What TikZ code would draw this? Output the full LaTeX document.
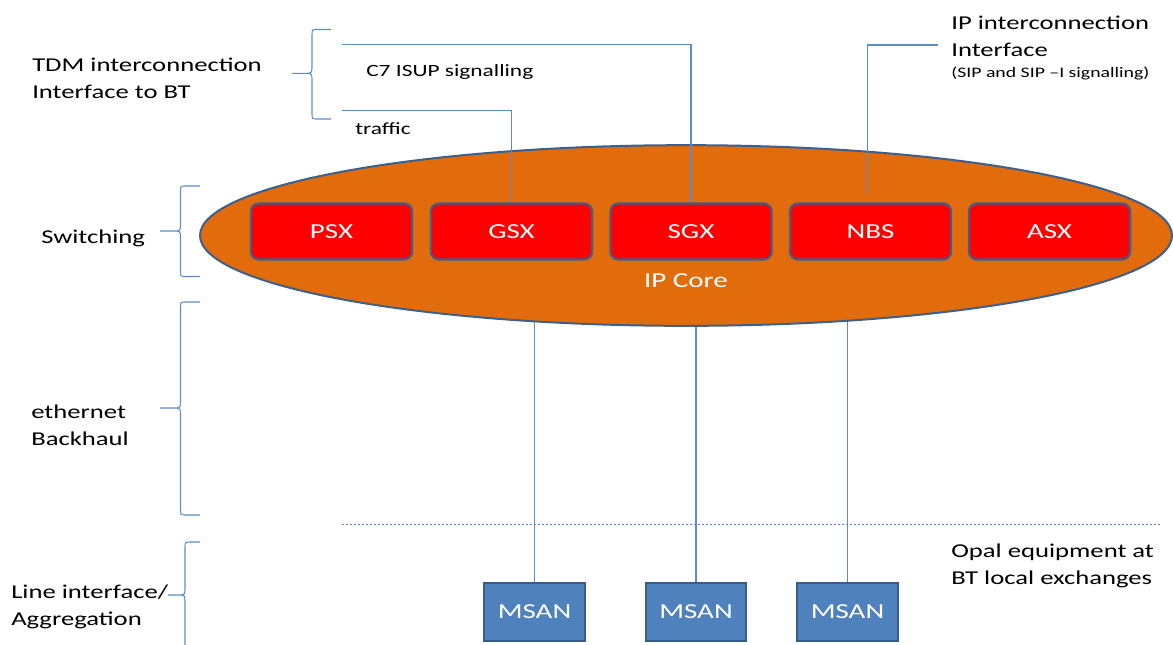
\documentclass[tikz,border=0pt]{standalone}
\usepackage{fontspec}
\setmainfont[FakeStretch=1.36]{Carlito}
\usetikzlibrary{shapes.geometric,calc}
\pgfdeclarelayer{bg}
\pgfsetlayers{bg,main}
\definecolor{orng}{HTML}{E26C0B}
\definecolor{bord}{HTML}{3D5F8C}
\definecolor{msanf}{HTML}{4F81BD}
\definecolor{msanb}{HTML}{385D8A}
\definecolor{lblue}{HTML}{5B8CC8}
\newcommand{\mybrace}[6]{% spine x, top y, tip y, bottom y, tip x, arm x
  \draw[brc] (#6,#2) -- (#1+5,#2) .. controls (#1,#2) .. (#1,#2+6) -- (#1,#3-8)
    .. controls (#1,#3) .. (#1-7,#3) -- (#5,#3)
    (#1-7,#3) .. controls (#1,#3) .. (#1,#3+8) -- (#1,#4-6)
    .. controls (#1,#4) .. (#1+5,#4) -- (#6,#4);}
\begin{document}
\begin{tikzpicture}[x=0.75pt,y=-0.75pt,
  redbox/.style={draw=bord, line width=1.6pt, fill=red, rounded corners=6pt,
    minimum width=121pt, minimum height=42pt, inner sep=0pt, text=white,
    font=\fontsize{16}{19}\selectfont},
  msan/.style={draw=msanb, line width=1.7pt, fill=msanf, minimum width=75.5pt,
    minimum height=43.5pt, inner sep=0pt, text=white, font=\fontsize{16}{19}\selectfont},
  conn/.style={draw=lblue, line width=0.8pt},
  brc/.style={draw=lblue, line width=0.8pt},
  txt/.style={anchor=west, inner sep=0pt, align=left, font=\fontsize{14.7}{20.25}\selectfont},
  smalltxt/.style={anchor=west, inner sep=0pt, font=\fontsize{12.9}{15}\selectfont},
  tinytxt/.style={anchor=west, inner sep=0pt, font=\fontsize{10.9}{13}\selectfont}]
\useasboundingbox (0,0) rectangle (1173,644);

% IP core ellipse
\node[ellipse, draw=bord, line width=1.5pt, fill=orng, minimum width=729pt,
  minimum height=135.5pt, inner sep=0pt] (core) at (686,235.5) {};
\node[text=white, inner sep=0pt, font=\fontsize{16}{19}\selectfont] (corelbl) at (686,281) {IP Core};

% switches
\node[redbox] (PSX) at (331.5,231.5) {PSX};
\node[redbox] (GSX) at (511.5,231.5) {GSX};
\node[redbox] (SGX) at (691,231.5) {SGX};
\node[redbox] (NBS) at (870.5,231.5) {NBS};
\node[redbox] (ASX) at (1049.5,231.5) {ASX};

% MSANs
\node[msan] (M1) at (534.5,612) {MSAN};
\node[msan] (M2) at (696,612) {MSAN};
\node[msan] (M3) at (847.5,612) {MSAN};

\begin{pgfonlayer}{bg}
\draw[conn] (M1.north) -- (M1.north |- core.center);
\draw[conn] (M2.north) -- (M2.north |- core.center);
\draw[conn] (M3.north) -- (M3.north |- core.center);
\end{pgfonlayer}

% interconnection lines
\coordinate (c7s) at (342,44.5);
\coordinate (trs) at (342,110.7);
\coordinate (ips) at (938,45);
\coordinate (nbsend) at (867.5,193);
\draw[conn] (c7s) -| (SGX.north);
\draw[conn] (trs) -| (GSX.north);
\draw[conn] (ips) -| (nbsend);

% dashed boundary
\coordinate (dl) at (342,524);
\coordinate (dr) at (1160,524);
\draw[draw=lblue, line width=0.7pt, dash pattern=on 1.8pt off 1.2pt] (dl) -- (dr);

% braces
\mybrace{312}{29.5}{73.3}{119}{292}{331}
\mybrace{180.5}{186}{231}{276.5}{160}{200}
\mybrace{180.5}{302}{408}{515}{160}{200}
\mybrace{185}{542}{595}{700}{168}{200}

% texts
\node[txt] (tdm) at (32,78) {TDM interconnection\\Interface to BT};
\node[smalltxt] (c7) at (366,71.5) {C7 ISUP signalling};
\node[smalltxt] (traffic) at (355,128.5) {traffic};
\node[txt] (ipint) at (951,36) {IP interconnection\\Interface};
\node[tinytxt] (sip) at (951,73.5) {(SIP and SIP –I signalling)};
\node[txt] (sw) at (41,238.5) {Switching};
\node[txt] (eth) at (31,425) {ethernet\\Backhaul};
\node[txt] (opal) at (951,566) {Opal equipment at\\BT local exchanges};
\node[txt] (line) at (11,607) {Line interface/\\Aggregation};
\end{tikzpicture}
\end{document}
